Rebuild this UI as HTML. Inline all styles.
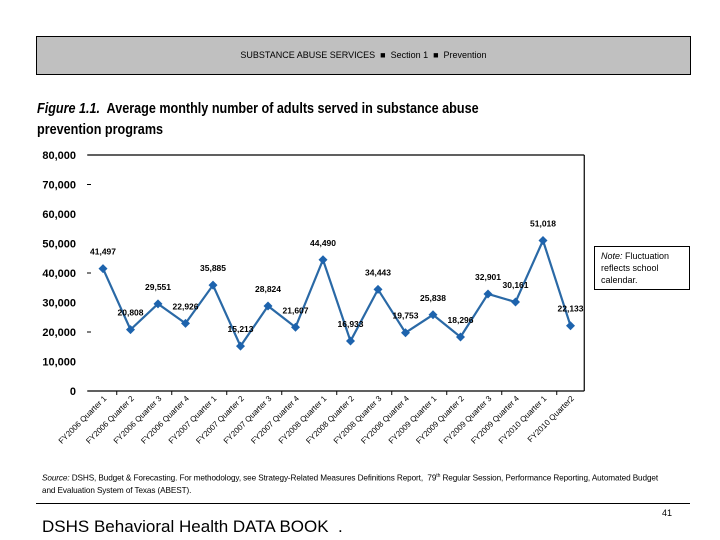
<!DOCTYPE html>
<html><head><meta charset="utf-8">
<style>
body{margin:0;background:#fff;font-family:"Liberation Sans",Arial,sans-serif;}
#page{position:relative;width:720px;height:540px;overflow:hidden;background:#fff;}
.abs{position:absolute;}
</style></head>
<body>
<div id="page">
  <div class="abs" style="left:36px;top:36px;width:653px;height:37px;background:#c0c0c0;border:1px solid #000;font-size:9px;line-height:37px;text-align:center;color:#000;">
    SUBSTANCE ABUSE SERVICES &nbsp;■&nbsp; Section 1 &nbsp;■&nbsp; Prevention
  </div>
  <div class="abs" style="left:37px;top:98px;width:600px;font-size:15px;font-weight:bold;line-height:21px;transform:scaleX(0.84);transform-origin:0 0;white-space:nowrap;">
    <i>Figure 1.1.</i>&nbsp; Average monthly number of adults served in substance abuse<br>prevention programs
  </div>
  <svg class="abs" style="left:0;top:0" width="720" height="540" id="chart"></svg>
  <div class="abs" style="left:594px;top:246px;width:88px;height:36px;border:1px solid #000;padding:3px 0 3px 6px;font-size:9px;line-height:12px;">
    <i>Note:</i> Fluctuation reflects school calendar.
  </div>
  <div class="abs" style="left:42px;top:470px;width:660px;font-size:8.2px;line-height:12px;letter-spacing:-0.1px;white-space:nowrap;">
    <i>Source:</i> DSHS, Budget &amp; Forecasting. For methodology, see Strategy-Related Measures Definitions Report, &nbsp;79<sup style="font-size:5px">th</sup> Regular Session, Performance Reporting, Automated Budget<br>and Evaluation System of Texas (ABEST).
  </div>
  <div class="abs" style="left:36px;top:503px;width:654px;height:1px;background:#000;"></div>
  <div class="abs" style="left:662px;top:508px;font-size:9px;">41</div>
  <div class="abs" style="left:42px;top:517px;font-size:17px;">DSHS Behavioral Health DATA BOOK &nbsp;.</div>
</div>
<script>
const categories=["FY2006 Quarter 1","FY2006 Quarter 2","FY2006 Quarter 3","FY2006 Quarter 4","FY2007 Quarter 1","FY2007 Quarter 2","FY2007 Quarter 3","FY2007 Quarter 4","FY2008 Quarter 1","FY2008 Quarter 2","FY2008 Quarter 3","FY2008 Quarter 4","FY2009 Quarter 1","FY2009 Quarter 2","FY2009 Quarter 3","FY2009 Quarter 4","FY2010 Quarter 1","FY2010 Quarter2"];
const values=[41497,20808,29551,22926,35885,15213,28824,21607,44490,16933,34443,19753,25838,18296,32901,30161,51018,22133];
const yTicks=[0,10000,20000,30000,40000,50000,60000,70000,80000];
const NS="http://www.w3.org/2000/svg";
const svg=document.getElementById('chart');
const X0=89.25,X1=584.25,Y0=391,Y1=155,YMAX=80000;
const bw=(X1-X0)/categories.length;
function xPos(i){return X0+bw*(i+0.5);}
function yPos(v){return Y0-(v/YMAX)*(Y0-Y1);}
function mk(tag,attrs){const e=document.createElementNS(NS,tag);for(const k in attrs)e.setAttribute(k,attrs[k]);svg.appendChild(e);return e;}
let e=mk('line',{x1:X0-2,y1:Y1,x2:X1,y2:Y1,stroke:'#000','stroke-width':1.2});

e=mk('line',{x1:X1,y1:Y1,x2:X1,y2:Y0,stroke:'#000','stroke-width':1.2});

e=mk('line',{x1:X0-2,y1:Y0,x2:X1,y2:Y0,stroke:'#000','stroke-width':1.2});

yTicks.forEach(function(v){
  const t=mk('text',{x:76,y:yPos(v)+4,'text-anchor':'end','font-size':11,'font-weight':'bold','font-family':'Liberation Sans, sans-serif'});
  t.textContent=v.toLocaleString('en-US');
  
  
  if(v===70000||v===40000||v===20000){
    const d=mk('line',{x1:87,y1:yPos(v),x2:91,y2:yPos(v),stroke:'#000','stroke-width':1});
    
    
  }
});
for(let i=1;i<categories.length;i+=2){
  const tx=X0+bw*i;
  const t=mk('line',{x1:tx,y1:Y0,x2:tx,y2:Y0+4,stroke:'#000','stroke-width':1});
  
  
}
categories.forEach(function(c,i){
  const x=xPos(i)+4,y=Y0+8;
  const t=mk('text',{x:x,y:y,'text-anchor':'end','font-size':8,transform:'rotate(-45 '+x+' '+y+')','font-family':'Liberation Sans, sans-serif'});
  t.textContent=c;
  
  
});
const pts=values.map(function(v,i){return xPos(i)+','+yPos(v);}).join(' ');
const pl=mk('polyline',{points:pts,fill:'none',stroke:'#2a69a6','stroke-width':2.2});


values.forEach(function(v,i){
  const x=xPos(i),y=yPos(v);
  const m=mk('polygon',{points:(x)+','+(y-4.5)+' '+(x+4.5)+','+y+' '+x+','+(y+4.5)+' '+(x-4.5)+','+y,fill:'#1d63ad'});
  
  
  const t=mk('text',{x:x,y:y-14,'text-anchor':'middle','font-size':8.5,'font-weight':'bold','font-family':'Liberation Sans, sans-serif'});
  t.textContent=v.toLocaleString('en-US');
  
  
});
</script>
</body></html>
